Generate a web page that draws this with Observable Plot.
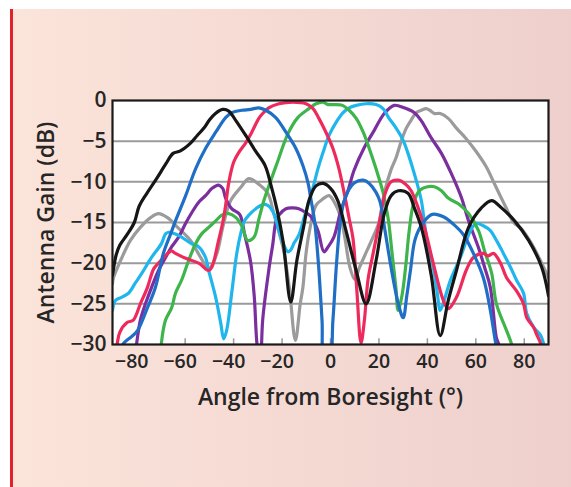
<!DOCTYPE html>
<html><head><meta charset="utf-8">
<script src="https://cdn.jsdelivr.net/npm/d3@7"></script>
<script src="https://cdn.jsdelivr.net/npm/@observablehq/plot@0.6"></script>
<style>
html,body{margin:0;padding:0;background:#fff;}
#wrap{position:relative;width:571px;height:487px;overflow:hidden;}
#panel{position:absolute;left:10px;top:9px;right:0;bottom:0;background:linear-gradient(to right,#fbe4da,#eecfcc);border-left:3px solid #e3202b;}
#chart{position:absolute;left:0;top:0;}
</style></head>
<body><div id="wrap"><div id="panel"></div><div id="chart"></div></div>
<script>
// Beam patterns: [angle (deg), gain (dB)]
const black = [[-90,-21.5],[-88.5,-19],[-87,-17.8],[-84,-16.5],[-81,-15],[-79,-13],[-76,-11.5],[-72,-9.7],[-68,-7.8],[-65,-6.5],[-62,-6.2],[-58,-5.3],[-55,-4.3],[-52,-3.3],[-50,-2.4],[-47.5,-1.6],[-44.5,-1.1],[-42,-1.3],[-39,-2.5],[-35,-4.3],[-31,-6.2],[-27,-8],[-24.5,-10.5],[-22,-13.5],[-19.5,-17.5],[-16.4,-24.8],[-13.9,-19.7],[-11,-15.4],[-8.9,-12.3],[-6,-10.5],[-3,-10.2],[0,-10.8],[3,-12.3],[6.4,-16],[10.6,-20.9],[14.7,-25],[18.8,-19.7],[22.2,-13.9],[25,-11.7],[28,-11.1],[32,-11.4],[34.6,-13.2],[37.5,-15.6],[41.6,-21.5],[45.3,-28.9],[48.6,-24.6],[52,-20.9],[57,-15.6],[62.3,-13.2],[66.5,-12.3],[70.6,-13.2],[76,-14.8],[81.8,-17.2],[87.2,-20.5],[90,-24]];
const blue = [[-86,-30.5],[-85.5,-29.9],[-82,-29],[-79.7,-28.3],[-75.6,-25.5],[-72.3,-23],[-69,-18.8],[-66,-16.4],[-64,-14.8],[-59.8,-11.7],[-55.7,-8.4],[-51.6,-5.9],[-47.4,-3.9],[-43.3,-2.1],[-40.8,-1.5],[-36.6,-1.2],[-33,-1.1],[-29.6,-0.9],[-26.7,-1.2],[-22.6,-2.1],[-18.4,-3.9],[-14.3,-5.9],[-11.4,-8],[-9.3,-10.1],[-8.1,-12.1],[-6.5,-15],[-5,-20],[-3.5,-27],[-2.5,-32],[-0.5,-32],[1,-27],[2.5,-20],[4,-15],[5.5,-12.5],[7.5,-11],[10,-10.1],[13.5,-9.8],[16,-10.2],[18.8,-11.3],[20.5,-12.5],[22.5,-16],[25,-20.5],[28,-25],[30,-26.7],[31.5,-24],[33,-20.9],[35,-17],[38.3,-15],[42,-14],[46.6,-14.3],[50.7,-15.2],[54.9,-16.5],[59,-18.8],[63.1,-21.8],[66,-25.8],[68,-29.5],[69,-31]];
const red = [[-88.5,-31],[-88,-29.8],[-87,-28.5],[-84,-27.3],[-81.4,-27],[-78.5,-25],[-75.6,-23],[-73,-20.7],[-71,-20],[-66.8,-18.7],[-65.6,-18.5],[-64,-18.8],[-59.8,-19.4],[-54.4,-20],[-50.3,-20.9],[-49,-20.5],[-46.2,-17.2],[-44.5,-15],[-43.3,-12.9],[-42,-10.1],[-40,-7.6],[-37.9,-6.4],[-35,-5.2],[-32.5,-3.9],[-29.6,-2.2],[-28,-1.6],[-25.5,-0.9],[-21.3,-0.4],[-15.5,-0.2],[-10.1,-0.4],[-7.2,-1],[-4.8,-2.2],[-1.9,-3.9],[1,-5.9],[3.5,-8.4],[5.6,-11.3],[7.7,-14.5],[9.3,-17],[10.8,-23],[12.6,-29.8],[14,-27],[15.5,-22],[17.6,-18.8],[20.5,-14.5],[22.5,-11.5],[25,-10],[28,-9.8],[31,-10.3],[33.3,-11.1],[36.2,-13.2],[38.8,-15.6],[42,-19.5],[46.6,-24.6],[48.6,-25.6],[52,-24.2],[56,-20.9],[59,-19.3],[63.1,-18.8],[65,-19.1],[67.3,-18.8],[70.2,-20],[72.7,-21.8],[76.8,-23.4],[79.7,-25],[81,-26.7],[83.9,-27.9],[85,-28.7],[86.8,-29.9],[87.5,-31]];
const green = [[-70,-31],[-69.8,-29.8],[-68.1,-27],[-65.6,-25.5],[-64,-23.7],[-61.5,-22.1],[-58.6,-19.7],[-55.7,-17.6],[-53.2,-16.4],[-50.3,-15.6],[-47.4,-14.8],[-44.9,-14.1],[-42,-13.9],[-39,-14.4],[-36.5,-15.5],[-34.2,-17.2],[-31.6,-16.8],[-29.5,-14.5],[-27.5,-12.3],[-24.6,-9.8],[-21.7,-7.4],[-17.6,-4.1],[-13.5,-2.1],[-8.9,-1],[-6,-0.4],[-3.1,-0.2],[-1,-0.5],[1.5,-0.5],[5,-0.6],[7.7,-1.2],[10.6,-2.2],[13.5,-3.9],[16,-5.9],[18.8,-8.4],[21.7,-11.3],[23.8,-14.5],[25.5,-19],[27,-23],[27.9,-25.8],[29.5,-24],[31,-20.5],[32.5,-16],[34.4,-12.5],[37,-11],[40,-10.6],[42.9,-10.6],[45.8,-11.1],[48.6,-12],[52.8,-12.7],[57,-13.9],[61.1,-16],[63.6,-18.5],[66.5,-21.2],[68.5,-25],[72.7,-28.3],[74.7,-29.9],[75.5,-31]];
const cyan = [[-90,-25.8],[-88.8,-24.6],[-86.3,-24.2],[-83.4,-23.7],[-80.5,-22.4],[-78,-21.3],[-73.9,-19.3],[-69.8,-17.6],[-68.1,-16.4],[-66.8,-16.2],[-64,-16.4],[-61.5,-16.8],[-57.4,-17.6],[-54.4,-18],[-51.6,-19.3],[-50.3,-20.9],[-47.4,-24.2],[-45.3,-27.4],[-44.1,-29.3],[-42.9,-28.3],[-40.8,-23.7],[-38.7,-18.8],[-37.1,-16.4],[-35.5,-14.8],[-33.7,-14.1],[-30.8,-13.3],[-28,-12.8],[-25.9,-12.9],[-23.4,-13.9],[-20.5,-16.8],[-17.6,-18.6],[-16.5,-18.4],[-15,-17.5],[-13,-16.5],[-11,-14.5],[-8.1,-11.7],[-5.2,-8.4],[-3.1,-6.4],[-0.6,-4.3],[2.3,-2.7],[5.2,-1.5],[7.7,-0.9],[10.6,-0.6],[14.7,-0.4],[18.8,-0.5],[21.7,-1],[24.2,-2.2],[27.1,-3.4],[30,-4.9],[32,-6.5],[34.6,-9],[37.5,-12.3],[38.8,-15.1],[40.4,-18.1],[42.4,-20.5],[44,-23.5],[45.3,-25.8],[47,-24.5],[49.5,-22.1],[53.6,-19.3],[57.8,-16],[60.2,-15.1],[63.1,-15.4],[66,-16],[68.5,-17.2],[71.4,-18.8],[74.3,-20.5],[76.8,-22.1],[79.7,-23.7],[81,-26.2],[83.9,-27.9],[86.8,-28.9],[88,-29.9],[89,-31]];
const purple = [[-80.5,-31],[-80,-29.8],[-78.5,-27],[-76.4,-25],[-73.9,-23],[-71,-20.9],[-68.1,-19.3],[-65.6,-18],[-62.7,-16.8],[-59.8,-15.1],[-57.3,-13.8],[-54.4,-12.5],[-51.6,-11.7],[-48.9,-10.8],[-46.2,-10.4],[-44.5,-10.8],[-43.3,-12],[-40.8,-13.3],[-37.5,-14],[-35.5,-16.4],[-33,-19.8],[-31.5,-24],[-30.4,-29.8],[-29,-33],[-28,-27],[-25.5,-20.9],[-23.8,-17.6],[-22.6,-15],[-21.3,-14.1],[-18.4,-13.3],[-15.5,-13.2],[-13.1,-13.3],[-10.1,-13.8],[-8,-14.3],[-5.2,-16],[-2.7,-18.6],[-1,-18],[1.4,-16.8],[4.3,-13.5],[7.2,-11.1],[9.7,-8.6],[13.9,-5.8],[18,-3.7],[22.2,-1.6],[26.3,-0.6],[30.4,-0.9],[34.6,-1.5],[37.5,-2.5],[41.6,-4.6],[45.8,-6.5],[49.9,-9],[54,-11.9],[57,-14.8],[61.1,-18.1],[63.6,-20.5],[66,-23],[68.5,-29.2],[69.4,-29.9],[70,-31]];
const gray = [[-90,-22.5],[-89.6,-21.8],[-86.7,-19.7],[-82.6,-17.2],[-78.5,-15.6],[-74.3,-14.4],[-71,-13.9],[-67.3,-14.4],[-63.1,-15.6],[-57.8,-17.2],[-53.6,-19.3],[-50.3,-20.7],[-48.5,-20],[-46.6,-18.5],[-44.1,-15.1],[-41.2,-12.3],[-37.1,-10.7],[-33.7,-9.6],[-30,-10.2],[-25.9,-11.4],[-23.4,-13.9],[-21,-16.5],[-19.3,-18.5],[-17,-23],[-14.5,-29.5],[-12.5,-25],[-11.4,-23],[-10.1,-18.8],[-8.9,-16.4],[-6,-12.9],[-3.1,-12.1],[-0.6,-11.7],[2.3,-12.9],[4.3,-14.5],[6,-17],[8,-20.5],[10,-22],[12,-20.5],[15,-18.5],[18,-16.5],[20,-15],[22.2,-11.4],[25,-8.5],[27.1,-7],[29.2,-5],[31.3,-3.4],[33.3,-2.4],[35.4,-1.5],[37.5,-1.2],[39.5,-1],[41,-1.2],[42.9,-1.6],[45.3,-1.6],[48.6,-2.2],[52,-3.4],[56,-4.7],[60.2,-6.3],[64.4,-8.2],[67.3,-10],[70.2,-11.8],[72.7,-13.3],[75.6,-15],[78.9,-15.8],[83,-17.6],[87.2,-20],[90,-21.8]];

const series = [
  {name:"gray", data:gray, color:"#9b9b9b"},
  {name:"purple", data:purple, color:"#7b2f9f"},
  {name:"cyan", data:cyan, color:"#1fb6ee"},
  {name:"green", data:green, color:"#3db54a"},
  {name:"red", data:red, color:"#ee2a5c"},
  {name:"blue", data:blue, color:"#1f6fc6"},
  {name:"black", data:black, color:"#161616"}
];

const xTicks = [-80,-60,-40,-20,0,20,40,60,80];
const yTicks = [0,-5,-10,-15,-20,-25,-30];
const gridTicks = [-5,-10,-15,-20,-25];
const xTitle = "Angle from Boresight (°)";
const yTitle = "Antenna Gain (dB)";

const font = "'Open Sans', Lato, sans-serif";
const textColor = "#262626";

const plot = Plot.plot({
  width: 571, height: 487,
  marginLeft: 112, marginRight: 23, marginTop: 100, marginBottom: 143,
  style: {background: "transparent", fontFamily: font, color: textColor},
  x: {domain: [-90, 90]},
  y: {domain: [-30, 0]},
  marks: [
    Plot.frame({fill: "white", stroke: "none"}),
    Plot.gridY(gridTicks, {stroke: "#9a9a9a", strokeOpacity: 1, strokeWidth: 2}),
    Plot.ruleX(xTicks, {y1: -30, y2: -29.3, stroke: "#9a9a9a", strokeWidth: 1.5}),
    ...series.map(s => Plot.line(s.data, {x: d => d[0], y: d => d[1], stroke: s.color, strokeWidth: 3.2, curve: "catmull-rom", clip: true})),
    Plot.frame({stroke: "#1a1a1a", strokeWidth: 2.2}),
    Plot.axisY(yTicks, {tickSize: 0, tickPadding: 6, fontSize: 21, fontWeight: 600, fill: textColor, tickFormat: d => d < 0 ? "\u2212" + Math.abs(d) : String(d), label: null}),
    Plot.axisX(xTicks.filter(d => d < 0), {tickSize: 0, tickPadding: 10, fontSize: 19.5, fontWeight: 600, fill: textColor, dx: -5, tickFormat: d => "\u2212" + Math.abs(d), label: null}),
    Plot.axisX(xTicks.filter(d => d >= 0), {tickSize: 0, tickPadding: 10, fontSize: 19.5, fontWeight: 600, fill: textColor, tickFormat: d => String(d), label: null}),
    Plot.text([xTitle], {frameAnchor: "bottom", dy: 53, lineAnchor: "middle", textAnchor: "middle", text: d => d, fontSize: 23, fontWeight: 600, fill: textColor}),
    Plot.text([yTitle], {frameAnchor: "left", dx: -66, rotate: -90, lineAnchor: "middle", textAnchor: "middle", text: d => d, fontSize: 23, fontWeight: 600, fill: textColor})
  ]
});
document.getElementById("chart").appendChild(plot);
</script>
</body></html>
